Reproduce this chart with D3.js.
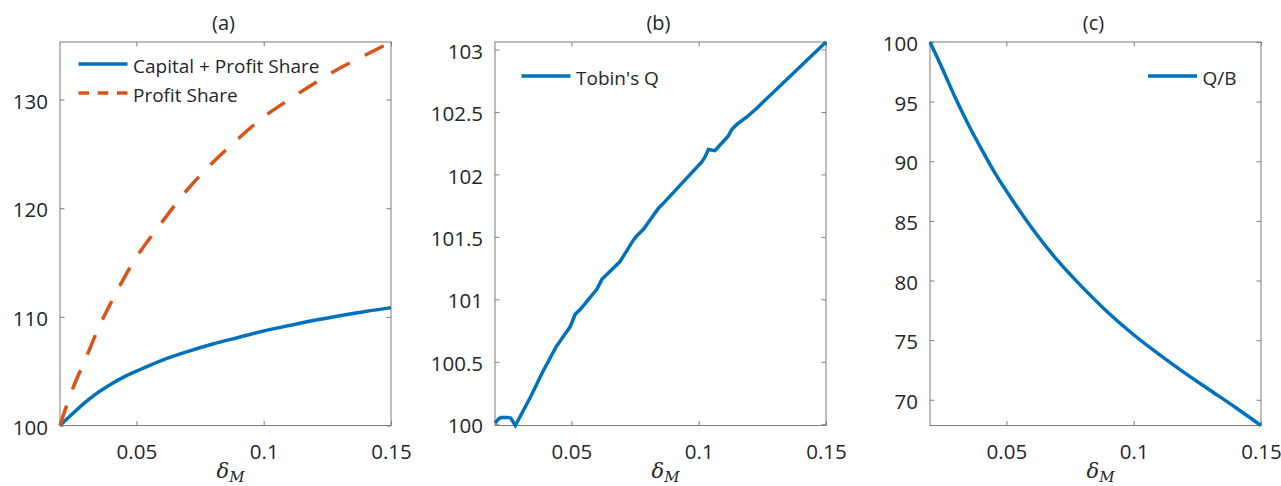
<!DOCTYPE html>
<html><head><meta charset="utf-8">
<script src="https://cdn.jsdelivr.net/npm/d3@7"></script>
<style>
body{margin:0;background:#fff;}
svg{display:block;font-family:"Open Sans",sans-serif;}
</style></head><body>
<svg id="chart" width="1281" height="486"></svg>
<script>
// ---- data ----
const deltaA = [0.02,0.025,0.03,0.035,0.04,0.045,0.05,0.06,0.07,0.08,0.09,0.10,0.11,0.12,0.13,0.14,0.15];
const capitalProfitShare = [100,101.1,102.15,103.05,103.8,104.45,105.0,106.0,106.8,107.5,108.1,108.7,109.2,109.68,110.1,110.5,110.85];
const profitShare = [100,103.4,106.1,108.9,111.3,113.5,115.5,118.7,121.7,124.2,126.4,128.4,130.0,131.5,132.9,134.1,135.3];

const deltaB = [0.0200,0.0215,0.0225,0.0250,0.0262,0.0280,0.0340,0.0390,0.0440,0.0495,0.0515,0.0535,0.0600,0.0620,0.0690,0.0718,0.0742,0.0757,0.0783,0.0842,0.0862,0.1012,0.1025,0.1038,0.1064,0.1117,0.1130,0.1150,0.1189,0.1228,0.1500];
const tobinsQ = [100.01,100.045,100.055,100.055,100.05,99.99,100.22,100.43,100.62,100.78,100.88,100.92,101.08,101.16,101.30,101.39,101.47,101.51,101.56,101.73,101.77,102.10,102.14,102.20,102.19,102.31,102.36,102.40,102.46,102.53,103.06];

const deltaC = [0.02,0.025,0.03,0.035,0.04,0.045,0.05,0.06,0.07,0.08,0.09,0.10,0.11,0.12,0.13,0.14,0.15];
const qOverB = [100,97.7,95.3,93.1,91.1,89.2,87.5,84.4,81.7,79.4,77.3,75.45,73.8,72.25,70.8,69.35,67.84];

const xTicks = [0.05,0.1,0.15];
const yTicksA = [100,110,120,130];
const yTicksB = [100,100.5,101,101.5,102,102.5,103];
const yTicksC = [70,75,80,85,90,95,100];
const titles = ["(a)","(b)","(c)"];
const legendA = ["Capital + Profit Share","Profit Share"];
const legendB = ["Tobin's Q"];
const legendC = ["Q/B"];

// ---- layout ----
const svg = d3.select("#chart");
const T = 42, B = 425.5, W = 331, TICK = 4.5;
const BLUE = "#0072BD", ORANGE = "#D95319";
const TEXT = "#262626", FRAME = "#7d7d7d";

function panel(o){
  const g = svg.append("g");
  const x = d3.scaleLinear().domain([0.02,0.15]).range([o.left, o.left+W]);
  const allY = o.series.flatMap(s => s.y);
  const y = d3.scaleLinear().domain(d3.extent(allY)).range([B, T]);

  const style = sel => {
    sel.select(".domain").remove();
    sel.selectAll(".tick line").attr("stroke", FRAME);
    sel.selectAll("text").attr("fill", TEXT).style("font-family","'Open Sans',sans-serif").style("font-size","20.5px");
  };
  g.append("g").attr("transform",`translate(0,${B})`)
    .call(d3.axisBottom(x).tickValues(xTicks).tickSize(-TICK).tickPadding(19).tickFormat(d=>String(d))).call(style);
  g.append("g").attr("transform",`translate(0,${T})`)
    .call(d3.axisTop(x).tickValues(xTicks).tickSize(-TICK).tickFormat("")).call(style);
  const yl = g.append("g").attr("transform",`translate(${o.left},0)`)
    .call(d3.axisLeft(y).tickValues(o.yTicks).tickSize(-TICK).tickPadding(12).tickFormat(d=>String(d))).call(style);
  yl.selectAll("text").attr("dy","0.42em");
  g.append("g").attr("transform",`translate(${o.left+W},0)`)
    .call(d3.axisRight(y).tickValues(o.yTicks).tickSize(-TICK).tickFormat("")).call(style);

  g.append("rect").attr("x",o.left).attr("y",T).attr("width",W).attr("height",B-T)
    .attr("fill","none").attr("stroke",FRAME).attr("stroke-width",1);

  o.series.forEach(s=>{
    const line = d3.line().x((d,i)=>x(s.x[i])).y(d=>y(d)).curve(s.curve);
    g.append("path").datum(s.y).attr("d",line).attr("fill","none")
      .attr("stroke",s.color).attr("stroke-width",3.5)
      .attr("stroke-dasharray",s.dash||null);
  });

  // title
  g.append("text").attr("x",o.left+W/2-2).attr("y",29.5).attr("text-anchor","middle")
    .attr("fill",TEXT).style("font-size","20px").text(o.title);
  // x label
  const xl = g.append("text").attr("x",o.left+W/2+5).attr("y",478).attr("text-anchor","middle")
    .attr("fill",TEXT).style("font-family","'DejaVu Serif','Liberation Serif',serif").style("font-style","italic");
  xl.append("tspan").style("font-size","21px").text("δ");
  xl.append("tspan").style("font-size","15px").attr("dy",4).text("M");

  // legend
  o.series.forEach((s,i)=>{
    const ly = o.legY + i*29;
    g.append("line").attr("x1",o.legX).attr("x2",o.legX+49).attr("y1",ly).attr("y2",ly)
      .attr("stroke",s.color).attr("stroke-width",3.5).attr("stroke-dasharray",s.legDash||null);
    g.append("text").attr("x",o.legX+54.5).attr("y",ly+9).attr("fill",TEXT)
      .style("font-size","19px").text(s.name);
  });
}

const smooth = d3.curveCatmullRom.alpha(0.5);
panel({left:60, title:titles[0], yTicks:yTicksA, legX:78.5, legY:64,
  series:[
    {x:deltaA, y:capitalProfitShare, color:BLUE, curve:smooth, name:legendA[0]},
    {x:deltaA, y:profitShare, color:ORANGE, curve:smooth, dash:"21,17", legDash:"10.5,8.75", name:legendA[1]}
  ]});
panel({left:495, title:titles[1], yTicks:yTicksB, legX:521.5, legY:76,
  series:[{x:deltaB, y:tobinsQ, color:BLUE, curve:d3.curveLinear, name:legendB[0]}]});
panel({left:930, title:titles[2], yTicks:yTicksC, legX:1148, legY:76,
  series:[{x:deltaC, y:qOverB, color:BLUE, curve:smooth, name:legendC[0]}]});
</script>
</body></html>
